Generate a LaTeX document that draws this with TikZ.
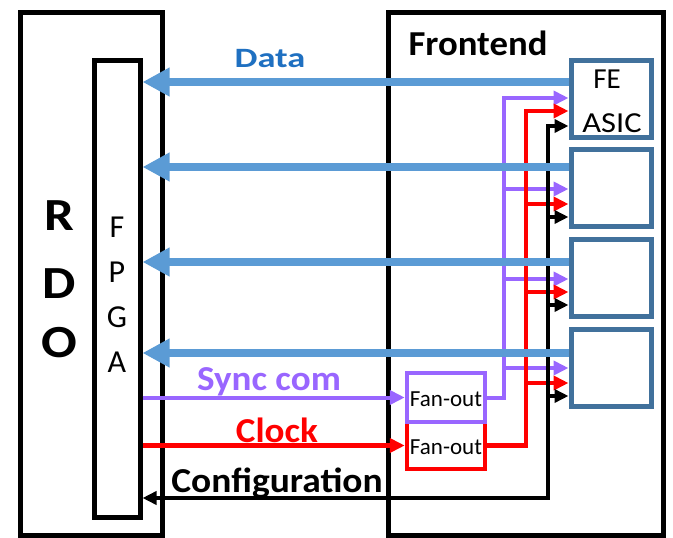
\documentclass[tikz,border=0pt]{standalone}
\usepackage{fontspec}
\setmainfont{Carlito}
\usetikzlibrary{arrows.meta}
\definecolor{databar}{HTML}{5B9BD5}
\definecolor{datatext}{HTML}{1F70C1}
\definecolor{asicborder}{HTML}{41719C}
\definecolor{syncc}{HTML}{9966FF}
\definecolor{clockc}{HTML}{FF0000}
\newcommand{\fs}[1]{\fontsize{#1}{#1}\selectfont}
\begin{document}
\begin{tikzpicture}[x=1pt,y=-1pt,
  blk/.style={draw=black, line width=5pt, inner sep=0pt},
  asicbox/.style={draw=asicborder, line width=5pt, minimum width=80pt, minimum height=77pt, inner sep=0pt},
  fanbox/.style={line width=4.5pt, minimum width=78pt, inner sep=0pt},
  databus/.style={draw=databar, line width=8pt, -{Triangle[length=27pt,width=27pt]}},
  syncl/.style={draw=syncc, line width=4pt},
  clockl/.style={draw=clockc, line width=4.5pt},
  cfgl/.style={draw=black, line width=4pt},
  stip/.style={-{Triangle[length=15pt,width=14pt]}},
  ctip/.style={-{Triangle[length=14pt,width=13pt]}},
  lbl/.style={anchor=base, inner sep=0pt}
]
\useasboundingbox (0,0) rectangle (673,538);
% boxes
\node[blk, minimum width=142pt, minimum height=523pt] (rdo) at (91,273.5) {};
\node[blk, minimum width=46pt, minimum height=457pt] (fpga) at (117,288.5) {};
\node[blk, minimum width=275pt, minimum height=523pt] (fe) at (525.5,273.5) {};
\node[asicbox] (asic1) at (611,98.5) {};
\node[asicbox] (asic2) at (611,187.5) {};
\node[asicbox] (asic3) at (611,277.5) {};
\node[asicbox] (asic4) at (611,367.5) {};
\node[fanbox, draw=clockc, minimum height=47pt] (fanC) at (446,445.5) {};
\node[fanbox, draw=syncc, minimum height=49pt] (fanS) at (446,397.5) {};
\node[lbl, font=\fs{23}] (fanStxt) at (446,406.5) {Fan-out};
\node[lbl, font=\fs{23}] (fanCtxt) at (446,454.5) {Fan-out};
% sync com
\draw[syncl, stip] (fpga.east |- fanS.west) -- (fanS.west);
\draw[syncl, stip] (fanS.east) -| (504,98) -- (asic1.west |- 0,98);
\draw[syncl, stip] (504,189) -- (asic2.west |- 0,189);
\draw[syncl, stip] (504,279) -- (asic3.west |- 0,279);
\draw[syncl, stip] (504,368) -- (asic4.west |- 0,368);
% clock
\draw[clockl, stip] (fpga.east |- fanC.west) -- (fanC.west);
\draw[clockl, stip] (fanC.east) -| (526,111) -- (asic1.west |- 0,111);
\draw[clockl, stip] (526,204) -- (asic2.west |- 0,204);
\draw[clockl, stip] (526,292) -- (asic3.west |- 0,292);
\draw[clockl, stip] (526,383) -- (asic4.west |- 0,383);
% configuration
\draw[cfgl, {Triangle[length=14pt,width=13pt]}-{Triangle[length=14pt,width=13pt]}] (fpga.east |- 0,498) -| (548,126) -- (asic1.west |- 0,126);
\draw[cfgl, ctip] (548,217) -- (asic2.west |- 0,217);
\draw[cfgl, ctip] (548,305) -- (asic3.west |- 0,305);
\draw[cfgl, ctip] (548,396) -- (asic4.west |- 0,396);
% data
\draw[databus] (asic1.west |- 0,82) -- (fpga.east |- 0,82);
\draw[databus] (asic2.west |- 0,167) -- (fpga.east |- 0,167);
\draw[databus] (asic3.west |- 0,262) -- (fpga.east |- 0,262);
\draw[databus] (asic4.west |- 0,353) -- (fpga.east |- 0,353);
% labels
\node[lbl, font=\fs{28}\bfseries, text=datatext] (datalbl) at (270,67) {\scalebox{1.3}[1]{Data}};
\node[lbl, font=\fs{35}\bfseries] (felbl) at (478,56) {\scalebox{1.05}[1]{Frontend}};
\node[lbl, font=\fs{35}\bfseries, text=syncc] (synclbl) at (269,390) {\scalebox{1.06}[1]{Sync com}};
\node[lbl, font=\fs{35}\bfseries, text=clockc] (clocklbl) at (277,442) {\scalebox{1.06}[1]{Clock}};
\node[lbl, font=\fs{35}\bfseries] (cfglbl) at (277,492) {\scalebox{1.07}[1]{Configuration}};
\node[lbl, font=\fs{46}\bfseries] (r) at (59.5,230) {\scalebox{1.15}[1]{R}};
\node[lbl, font=\fs{46}\bfseries] (d) at (59,298) {\scalebox{1.15}[1]{D}};
\node[lbl, font=\fs{46}\bfseries] (o) at (59,357) {\scalebox{1.15}[1]{O}};
\node[lbl, font=\fs{32}] (f1) at (117,237) {F};
\node[lbl, font=\fs{32}] (p1) at (117,282) {P};
\node[lbl, font=\fs{32}] (g1) at (117,327) {G};
\node[lbl, font=\fs{32}] (a1) at (117,372) {A};
\node[lbl, font=\fs{29}] (fe1) at (607,88) {FE};
\node[lbl, font=\fs{29}] (asic1t) at (612,132) {\scalebox{1.12}[1]{ASIC}};
\end{tikzpicture}
\end{document}
